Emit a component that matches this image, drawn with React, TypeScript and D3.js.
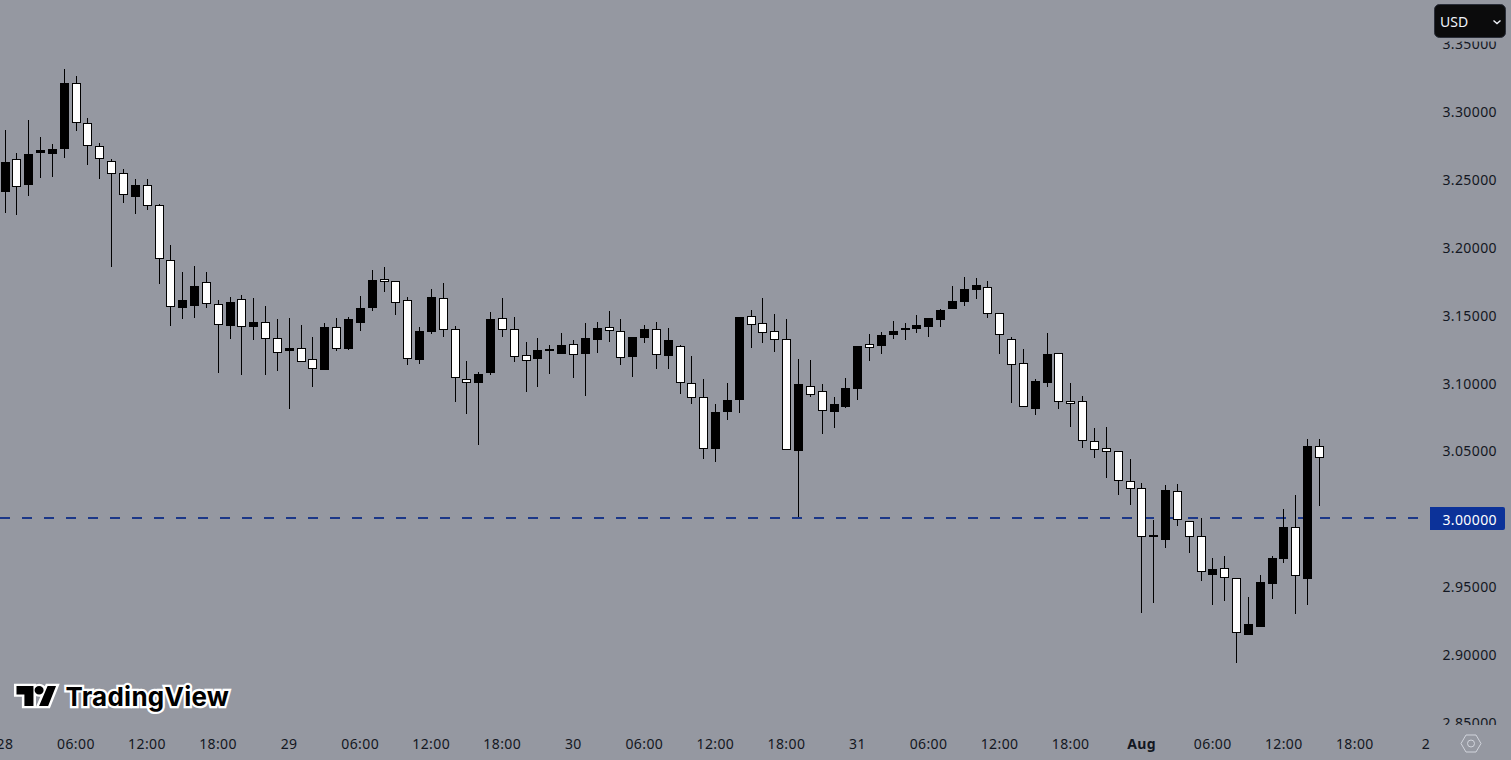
import React, { useEffect, useRef } from "react";
import * as d3 from "d3";

// hourly candles, first one is 28 Jul 00:00
const opens = [
  3.2407, 3.2646, 3.2456, 3.2692, 3.2685, 3.2722, 3.3206, 3.2911, 3.2742, 3.2631, 3.2543, 3.237, 3.2454, 3.2307,
  3.1901, 3.1552, 3.1567, 3.1739, 3.1577, 3.1419, 3.1614, 3.1412, 3.1445, 3.1327, 3.1233, 3.1253, 3.1172, 3.1095,
  3.1408, 3.125, 3.1442, 3.1552, 3.1764, 3.1747, 3.1607, 3.1169, 3.1375, 3.1621, 3.1393, 3.1024, 3.0999, 3.1073,
  3.1474, 3.1393, 3.1201, 3.1176, 3.1233, 3.1213, 3.1282, 3.1213, 3.1316, 3.1408, 3.1378, 3.1191, 3.1331, 3.1393,
  3.1198, 3.1268, 3.0995, 3.0896, 3.0513, 3.0786, 3.0874, 3.1489, 3.1437, 3.1378, 3.1319, 3.0498, 3.0973, 3.0936,
  3.0786, 3.0822, 3.0955, 3.1282, 3.1272, 3.1353, 3.1395, 3.1397, 3.1412, 3.1464, 3.1543, 3.1596, 3.1685, 3.1702,
  3.1511, 3.1319, 3.1142, 3.0808, 3.0999, 3.1216, 3.0862, 3.0862, 3.0572, 3.0516, 3.0494, 3.0273, 3.0221, 2.987,
  2.9842, 3.0199, 2.9978, 2.9867, 2.9584, 2.9632, 2.9558, 2.9142, 2.9201, 2.9518, 2.9702, 2.9934, 2.9555, 3.0531,
];
const closes = [
  3.2624, 3.2439, 3.2685, 3.2714, 3.2722, 3.3208, 3.2911, 3.2746, 3.2646, 3.254, 3.2381, 3.2454, 3.2304, 3.1913,
  3.1559, 3.1609, 3.1712, 3.1577, 3.1427, 3.1592, 3.1412, 3.1447, 3.1324, 3.122, 3.1255, 3.1154, 3.1103, 3.1408,
  3.125, 3.1467, 3.1548, 3.1756, 3.1744, 3.1589, 3.1172, 3.1378, 3.1629, 3.139, 3.1036, 3.0999, 3.1061, 3.1467,
  3.139, 3.1191, 3.1162, 3.1238, 3.1248, 3.1275, 3.1206, 3.1327, 3.14, 3.1378, 3.1179, 3.1336, 3.1393, 3.1201,
  3.1312, 3.0995, 3.0884, 3.0509, 3.0781, 3.087, 3.1484, 3.1422, 3.1363, 3.1312, 3.0501, 3.0988, 3.0911, 3.0789,
  3.084, 3.0958, 3.127, 3.1257, 3.1349, 3.1378, 3.14, 3.1422, 3.1474, 3.1533, 3.1599, 3.1688, 3.1717, 3.1508,
  3.1353, 3.1132, 3.0818, 3.101, 3.1209, 3.0855, 3.0845, 3.0572, 3.0506, 3.0491, 3.0277, 3.0218, 2.9864, 2.9875,
  3.0206, 2.9985, 2.9864, 2.9606, 2.9624, 2.9558, 2.9152, 2.9219, 2.9528, 2.9705, 2.9934, 2.9577, 3.0531, 3.0442,
];
const highs = [
  3.2862, 3.269, 3.2935, 3.2808, 3.2759, 3.3311, 3.326, 3.2948, 3.2764, 3.2648, 3.2574, 3.2501, 3.2501, 3.2316,
  3.2012, 3.1815, 3.1859, 3.1815, 3.1607, 3.1629, 3.1646, 3.1624, 3.1562, 3.1469, 3.1476, 3.1425, 3.1334, 3.1437,
  3.1474, 3.1481, 3.1636, 3.183, 3.1852, 3.1749, 3.1629, 3.1408, 3.169, 3.1732, 3.1417, 3.1157, 3.1076, 3.152,
  3.1624, 3.1481, 3.1297, 3.1327, 3.1277, 3.1363, 3.1314, 3.1439, 3.1445, 3.1526, 3.1467, 3.1336, 3.1425, 3.1445,
  3.1403, 3.1275, 3.1196, 3.1024, 3.0842, 3.0995, 3.1484, 3.1535, 3.1621, 3.1506, 3.1467, 3.1174, 3.1164, 3.0988,
  3.0892, 3.1034, 3.127, 3.1356, 3.1371, 3.1452, 3.1437, 3.1496, 3.1474, 3.154, 3.171, 3.1776, 3.1769, 3.1747,
  3.1511, 3.1334, 3.1246, 3.1024, 3.1363, 3.1216, 3.0995, 3.0899, 3.0663, 3.0671, 3.0494, 3.0437, 3.0258, 2.9987,
  3.0243, 3.0251, 2.9978, 3.0, 2.9705, 2.972, 2.9558, 2.9418, 2.9582, 2.972, 3.0066, 3.017, 3.0582, 3.0582,
];
const lows = [
  3.2252, 3.2238, 3.2378, 3.251, 3.2518, 3.2658, 3.2857, 3.2606, 3.2503, 3.1854, 3.2324, 3.2245, 3.2274, 3.1729,
  3.1419, 3.1471, 3.1478, 3.1552, 3.1073, 3.1324, 3.1058, 3.1316, 3.1058, 3.1088, 3.0808, 3.1154, 3.097, 3.1095,
  3.1235, 3.1243, 3.1383, 3.153, 3.1668, 3.1501, 3.1132, 3.1139, 3.1361, 3.1338, 3.0859, 3.0771, 3.0542, 3.1056,
  3.1338, 3.1154, 3.0933, 3.097, 3.1066, 3.1213, 3.1036, 3.0904, 3.122, 3.1302, 3.1132, 3.1044, 3.1294, 3.1103,
  3.1103, 3.0918, 3.0845, 3.0439, 3.0417, 3.0727, 3.0778, 3.1257, 3.1294, 3.1228, 3.0501, 3.0007, 3.0896, 3.0624,
  3.0668, 3.0815, 3.0874, 3.1162, 3.1213, 3.1324, 3.1316, 3.1368, 3.1338, 3.1412, 3.1543, 3.1567, 3.1616, 3.1478,
  3.1213, 3.0852, 3.0818, 3.0764, 3.097, 3.0808, 3.0675, 3.052, 3.0447, 3.0299, 3.0174, 3.01, 2.9304, 2.9378,
  2.9783, 2.9945, 2.9746, 2.954, 2.9363, 2.9393, 2.8936, 2.9142, 2.9201, 2.9407, 2.9673, 2.9297, 2.9363, 3.0093,
];

const priceTicks = [3.35, 3.3, 3.25, 3.2, 3.15, 3.1, 3.05, 3.0, 2.95, 2.9, 2.85];
const timeTicks = [0, 6, 12, 18, 24, 30, 36, 42, 48, 54, 60, 66, 72, 78, 84, 90, 96, 102, 108, 114, 120];
const timeLabels = [
  "28", "06:00", "12:00", "18:00", "29", "06:00", "12:00", "18:00", "30", "06:00", "12:00",
  "18:00", "31", "06:00", "12:00", "18:00", "Aug", "06:00", "12:00", "18:00", "2",
];
const alertPrice = 3.0;

const width = 1511;
const height = 760;
const chartRight = 1430;
const axisTop = 41.5;
const axisBottom = 725;
const uiFont = "'Noto Sans', sans-serif";
const inkColor = "#131722";

const xScale = d3.scaleLinear().domain([0, 111]).range([5.1, 1319.5]);
const yScale = d3.scaleLinear().domain([2.85, 3.35]).range([721.8, 43.4]);

const App: React.FC = () => {
  const priceAxisRef = useRef<SVGGElement>(null);
  const timeAxisRef = useRef<SVGGElement>(null);

  useEffect(() => {
    if (!priceAxisRef.current || !timeAxisRef.current) return;

    const priceAxis = d3
      .axisLeft(yScale)
      .tickValues(priceTicks)
      .tickSize(0)
      .tickPadding(0)
      .tickFormat((d) => d3.format(".5f")(d as number));
    const priceG = d3.select(priceAxisRef.current).call(priceAxis);
    priceG.select(".domain").remove();
    priceG
      .selectAll("text")
      .attr("font-family", uiFont)
      .attr("font-size", 14)
      .attr("letter-spacing", 0.4)
      .attr("fill", inkColor);

    const timeAxis = d3
      .axisBottom(xScale)
      .tickValues(timeTicks)
      .tickSize(0)
      .tickPadding(0)
      .tickFormat((d, i) => timeLabels[i]);
    const timeG = d3.select(timeAxisRef.current).call(timeAxis);
    timeG.select(".domain").remove();
    timeG
      .selectAll("text")
      .attr("font-family", uiFont)
      .attr("font-size", 14)
      .attr("letter-spacing", 0.4)
      .attr("fill", inkColor)
      .attr("font-weight", (d, i) => (timeLabels[i] === "Aug" ? 700 : 400));
  }, []);

  const alertY = Math.round(yScale(alertPrice));

  return (
    <svg
      width={width}
      height={height}
      style={{ position: "absolute", left: 0, top: 0, display: "block", background: "#9598a1" }}
    >
      <defs>
        <clipPath id="price-clip">
          <rect x={chartRight} y={axisTop} width={width - chartRight} height={axisBottom - axisTop} />
        </clipPath>
      </defs>

      <line x1={0} x2={chartRight} y1={alertY} y2={alertY} stroke="#1b3788" strokeWidth={2} strokeDasharray="10 12" />

      {opens.map((open, i) => {
        const c = Math.floor(xScale(i)) + 0.5;
        const top = Math.round(yScale(Math.max(open, closes[i])));
        const bottom = Math.round(yScale(Math.min(open, closes[i])));
        const up = closes[i] > open;
        const bodyH = Math.max(bottom - top, 2);
        return (
          <g key={i}>
            <line x1={c} x2={c} y1={Math.round(yScale(highs[i]))} y2={Math.round(yScale(lows[i]))} stroke="#000" />
            <rect x={c - 4.5} y={top} width={9} height={bodyH} fill="#000" />
            {!up && bodyH > 2 && <rect x={c - 3.5} y={top + 1} width={7} height={bodyH - 2} fill="#fff" />}
          </g>
        );
      })}

      <g clipPath="url(#price-clip)">
        <g ref={priceAxisRef} transform="translate(1497,1)" />
      </g>
      <g ref={timeAxisRef} transform="translate(-0.7,739.5)" />

      {/* price label for the line */}
      <path d="M1430 507H1503a2 2 0 0 1 2 2V528a2 2 0 0 1 -2 2H1430Z" fill="#0c3299" />
      <text
        x={1497}
        y={519}
        textAnchor="end"
        dominantBaseline="central"
        fontFamily={uiFont}
        fontSize={14}
        letterSpacing={0.4}
        fill="#fff"
      >
        {d3.format(".5f")(alertPrice)}
      </text>

      {/* currency button */}
      <rect x={1434.5} y={4.5} width={71} height={33} rx={5} fill="#0b0b0c" stroke="#2a2e39" />
      <text x={1440} y={26.5} fontFamily={uiFont} fontSize={14} fill="#f0f3fa">
        USD
      </text>
      <path d="M1493.5 20.5l3.5 3 3.5-3" fill="none" stroke="#f0f3fa" strokeWidth={1.4} />

      {/* chart settings */}
      <path d="M1461 743.5l5-8.5h10l5 8.5-5 8.5h-10Z" fill="none" stroke="#d1d4dc" />
      <circle cx={1471} cy={743.5} r={3.5} fill="none" stroke="#d1d4dc" />

      {/* watermark */}
      <path
        d="M15 19H7V8H0V0h15v19ZM28 19h-8L27.5 0H35l-7 19ZM20 8a4 4 0 1 0 0-8 4 4 0 0 0 0 8Z"
        transform="translate(16.5,686) scale(1.13,1.05)"
        fill="#000"
        stroke="#fff"
        strokeWidth={4.5}
        paintOrder="stroke"
      />
      <text
        x={65.5}
        y={706}
        fontFamily="Inter, sans-serif"
        fontWeight={700}
        fontSize={26}
        letterSpacing={0.25}
        fill="#000"
        stroke="#fff"
        strokeWidth={4.5}
        paintOrder="stroke"
      >
        TradingView
      </text>
    </svg>
  );
};

export default App;
